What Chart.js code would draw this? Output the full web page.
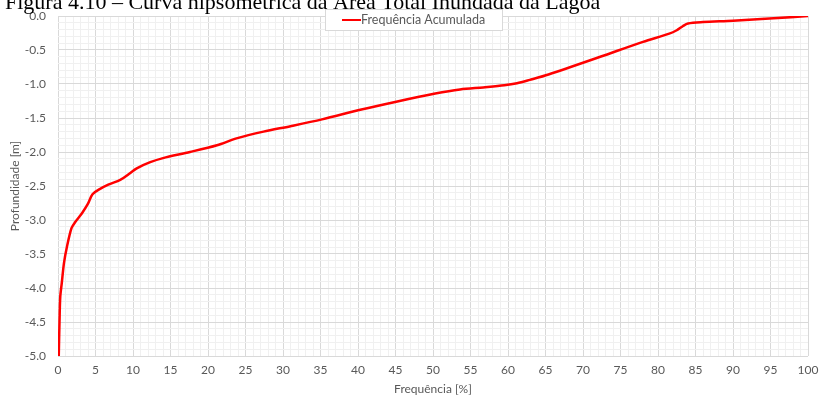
<!DOCTYPE html>
<html>
<head>
<meta charset="utf-8">
<script src="https://cdn.jsdelivr.net/npm/chart.js@4"></script>
<style>
  body { margin: 0; background: #fff; }
  #wrap { width: 823px; height: 396px; }
</style>
</head>
<body>
<div id="wrap"><canvas id="grafico" width="823" height="396"></canvas></div>
<script>
// === DATI ===
const titoloFigura = "Figura 4.10 – Curva hipsométrica da Área Total Inundada da Lagoa";
const etichettaSerie = "Frequência Acumulada";
const frequenza = [0.1, 0.2, 0.3, 0.5, 0.8, 1.2, 1.8, 2.3, 3.2, 4.0, 4.6, 5.5, 6.7, 8.3, 9.5, 10.5, 12.3, 14.0, 17.6, 21.2, 23.8, 27.4, 31.0, 35.2, 40.3, 45.1, 50.3, 53.6, 56.7, 59.5, 61.2, 62.9, 65.4, 72.3, 78.0, 81.5, 82.5, 83.3, 84.0, 86.0, 90.0, 95.4, 100];
const profondita = [-5.0, -4.5, -4.13, -3.93, -3.63, -3.39, -3.12, -3.03, -2.9, -2.76, -2.62, -2.55, -2.48, -2.41, -2.32, -2.24, -2.15, -2.09, -2.0, -1.9, -1.8, -1.7, -1.62, -1.52, -1.38, -1.26, -1.14, -1.08, -1.05, -1.02, -0.99, -0.94, -0.86, -0.6, -0.38, -0.26, -0.21, -0.15, -0.11, -0.09, -0.07, -0.034, 0];
const tickX = [0, 5, 10, 15, 20, 25, 30, 35, 40, 45, 50, 55, 60, 65, 70, 75, 80, 85, 90, 95, 100];
const tickY = ["0.0", "-0.5", "-1.0", "-1.5", "-2.0", "-2.5", "-3.0", "-3.5", "-4.0", "-4.5", "-5.0"];

const punti = frequenza.map((f, i) => ({ x: f, y: profondita[i] }));
const grigio = '#595959';
const fontBase = { family: 'Lato', size: 12 };

// titolo tagliato in alto + legenda dentro l'area del grafico
const decorazioni = {
  id: 'decorazioni',
  afterDraw(chart) {
    const ctx = chart.ctx;
    ctx.save();
    ctx.fillStyle = '#000';
    ctx.font = '22px "Liberation Serif"';
    ctx.textBaseline = 'alphabetic';
    ctx.textAlign = 'left';
    ctx.fillText(titoloFigura, 5, 9);

    // legenda
    const ds = chart.data.datasets[0];
    const bx = 325, by = 9, bw = 177, bh = 21;
    ctx.fillStyle = '#fff';
    ctx.fillRect(bx, by, bw, bh);
    ctx.strokeStyle = '#d9d9d9';
    ctx.lineWidth = 1;
    ctx.strokeRect(bx + 0.5, by + 0.5, bw, bh);
    ctx.strokeStyle = ds.borderColor;
    ctx.lineWidth = 2;
    ctx.beginPath();
    ctx.moveTo(bx + 17, by + 11);
    ctx.lineTo(bx + 36, by + 11);
    ctx.stroke();
    ctx.fillStyle = grigio;
    ctx.font = '12.5px Lato';
    ctx.textBaseline = 'middle';
    ctx.fillText(ds.label, bx + 36, by + 11);
    ctx.restore();
  }
};

new Chart(document.getElementById('grafico'), {
  type: 'scatter',
  data: {
    datasets: [{
      label: etichettaSerie,
      data: punti,
      showLine: true,
      borderColor: '#ff0000',
      backgroundColor: '#ff0000',
      borderWidth: 2.5,
      pointRadius: 0,
      tension: 0.3
    }]
  },
  options: {
    responsive: false,
    animation: false,
    layout: { padding: { top: 16, right: 15, bottom: 0, left: 8 } },
    plugins: {
      legend: { display: false },
      tooltip: { enabled: false }
    },
    scales: {
      x: {
        type: 'linear',
        min: 0,
        max: 100,
        afterFit: s => { s.height = 40; s.paddingLeft = 0; s.paddingRight = 0; },
        ticks: {
          stepSize: 1,
          autoSkip: false,
          maxRotation: 0,
          color: grigio,
          font: fontBase,
          padding: 7,
          callback: v => tickX.includes(v) ? String(v) : ''
        },
        grid: {
          drawTicks: false,
          color: c => (c.tick && c.tick.value % 5 === 0) ? '#d9d9d9' : '#f0f0f0'
        },
        border: { display: false },
        title: { display: true, text: 'Frequência [%]', color: grigio, font: { family: 'Lato', size: 12 }, padding: { top: 0, bottom: 0 } }
      },
      y: {
        type: 'linear',
        min: -5,
        max: 0,
        afterFit: s => { s.width = 50; s.paddingTop = 0; s.paddingBottom = 0; },
        ticks: {
          stepSize: 0.1,
          autoSkip: false,
          color: grigio,
          font: fontBase,
          padding: 12,
          callback: v => {
            const s = (Math.round(v * 10) / 10).toFixed(1);
            return tickY.includes(s) ? s : '';
          }
        },
        grid: {
          drawTicks: false,
          color: c => (c.tick && Math.round(c.tick.value * 10) % 5 === 0) ? '#d9d9d9' : '#f0f0f0'
        },
        border: { display: false },
        title: { display: true, text: 'Profundidade [m]', color: grigio, font: { family: 'Lato', size: 12 }, padding: { top: 0, bottom: 0 } }
      }
    }
  },
  plugins: [decorazioni]
});
</script>
</body>
</html>
